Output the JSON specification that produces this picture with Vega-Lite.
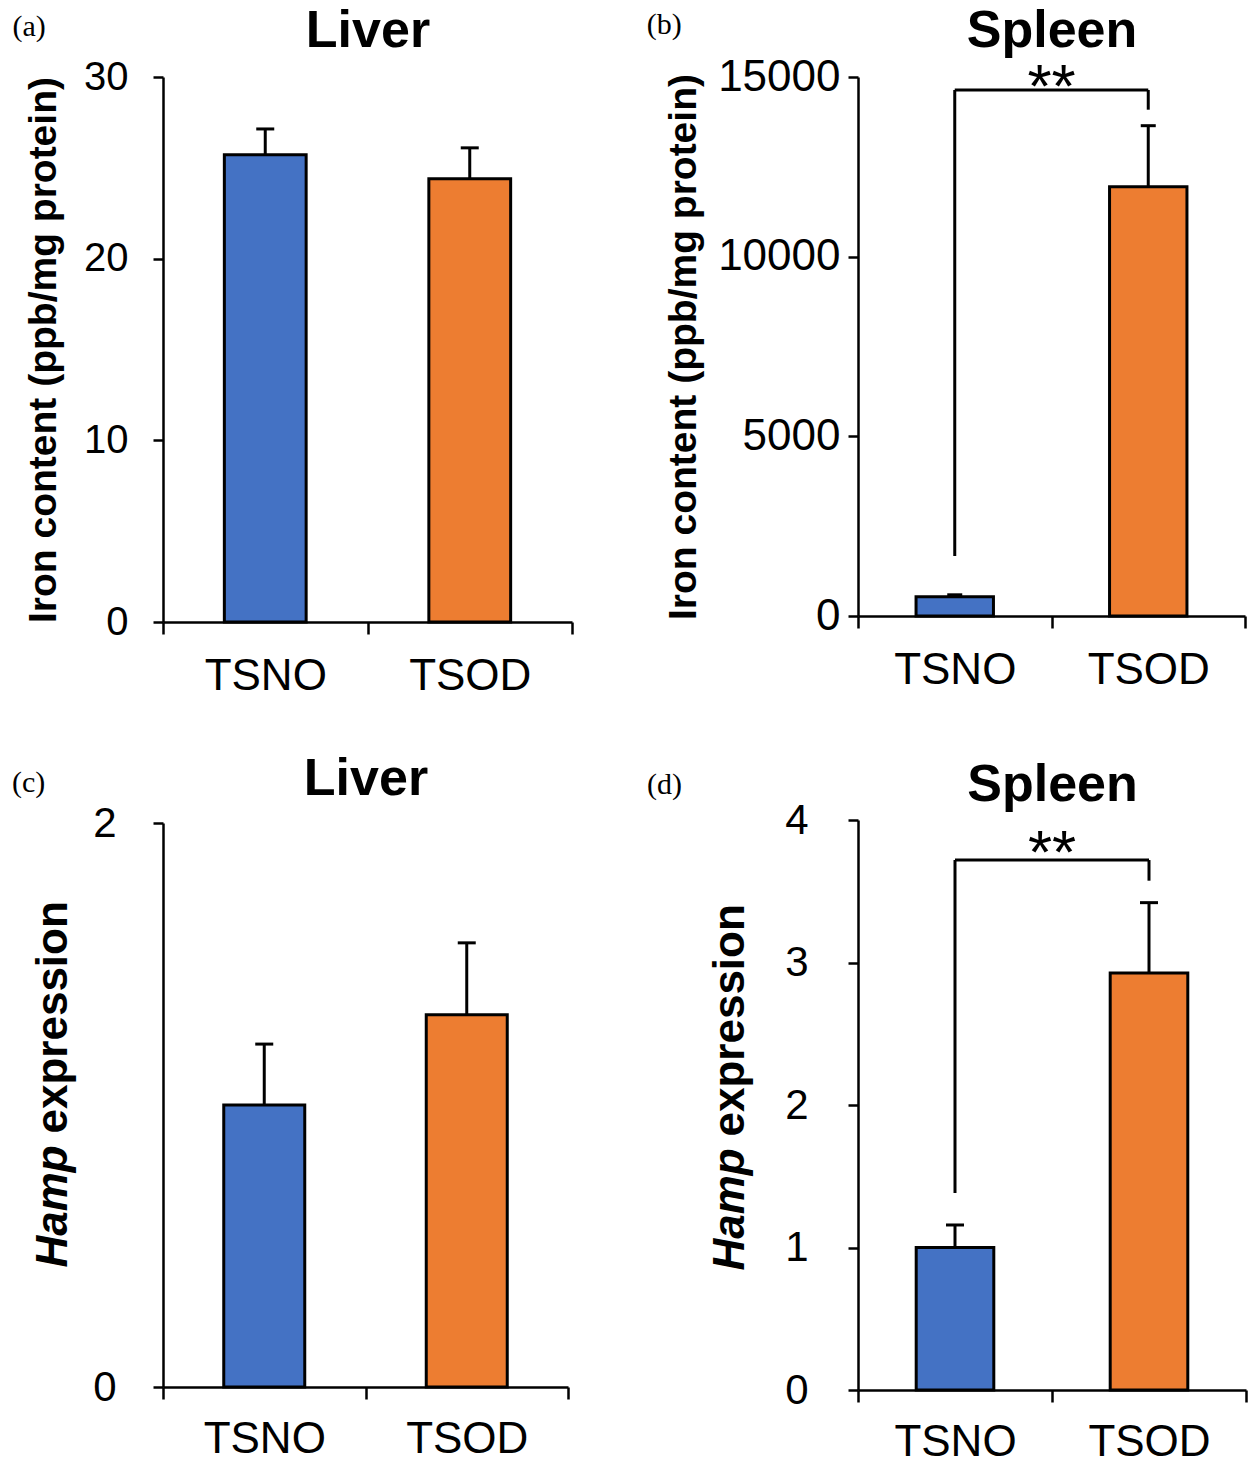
{
  "$schema": "https://vega.github.io/schema/vega-lite/v6.json",
  "background": "white",
  "padding": {"left": 12, "top": 4, "right": 0, "bottom": 0},
  "config": {
    "view": {"stroke": null},
    "font": "Liberation Sans",
    "axis": {"grid": false, "domainColor": "black", "tickColor": "black", "labelColor": "black", "titleColor": "black", "labelFont": "Liberation Sans", "titleFont": "Liberation Sans", "domainWidth": 2.5, "tickWidth": 2.5}
  },
  "spacing": 72,
  "hconcat": [
    {
      "spacing": 54,
      "vconcat": [
        {
          "width": 409, "height": 545,
          "title": {"text": "(a)", "anchor": "start", "frame": "bounds", "font": "Liberation Serif", "fontSize": 30, "fontWeight": "normal", "offset": -38, "dx": -12, "color": "black"},
          "data": {"values": [
            {"group": "TSNO", "value": 25.72, "upper": 27.14},
            {"group": "TSOD", "value": 24.4, "upper": 26.1}
          ]},
          "layer": [
            {
              "mark": {"type": "bar", "width": {"band": 0.4}, "stroke": "black", "strokeWidth": 3},
              "encoding": {
                "x": {"field": "group", "type": "nominal", "scale": {"padding": 0}, "axis": {"title": null, "labelAngle": 0, "labelFontSize": 44, "tickBand": "extent", "tickSize": 12, "labelPadding": 20}},
                "y": {"field": "value", "type": "quantitative", "scale": {"domain": [0, 30], "nice": false}, "axis": {"values": [0, 10, 20, 30], "format": "d", "title": "Iron content (ppb/mg protein)", "titleFontSize": 39, "titleFontWeight": "bold", "labelFontSize": 40, "tickSize": 10, "labelPadding": 25, "titlePadding": 20}},
                "color": {"field": "group", "type": "nominal", "scale": {"range": ["#4472C4", "#ED7D31"]}, "legend": null}
              }
            },
            {
              "mark": {"type": "rule", "strokeWidth": 3, "color": "black"},
              "encoding": {
                "x": {"field": "group", "type": "nominal", "axis": {"orient": "top", "title": "Liver", "labels": false, "ticks": false, "domain": false, "titleFontSize": 52, "titleFontWeight": "bold", "titlePadding": 20}},
                "y": {"field": "value", "type": "quantitative", "axis": null},
                "y2": {"field": "upper"}
              }
            },
            {
              "mark": {"type": "tick", "thickness": 3, "size": 18, "color": "black", "opacity": 1},
              "encoding": {
                "x": {"field": "group", "type": "nominal", "axis": null},
                "y": {"field": "upper", "type": "quantitative", "axis": null}
              }
            }
          ],
          "resolve": {"axis": {"x": "independent", "y": "independent"}}
        },
        {
          "width": 405, "height": 564,
          "title": {"text": "(c)", "anchor": "start", "frame": "bounds", "font": "Liberation Serif", "fontSize": 30, "fontWeight": "normal", "offset": -46, "dx": -19, "color": "black"},
          "data": {"values": [
            {"group": "TSNO", "value": 1.0, "upper": 1.216},
            {"group": "TSOD", "value": 1.32, "upper": 1.575}
          ]},
          "layer": [
            {
              "mark": {"type": "bar", "width": {"band": 0.4}, "stroke": "black", "strokeWidth": 3},
              "encoding": {
                "x": {"field": "group", "type": "nominal", "scale": {"padding": 0}, "axis": {"title": null, "labelAngle": 0, "labelFontSize": 44, "tickBand": "extent", "tickSize": 12, "labelPadding": 18}},
                "y": {"field": "value", "type": "quantitative", "scale": {"domain": [0, 2], "nice": false}, "axis": {"values": [0, 1, 2], "format": "d", "title": "expression", "titleFontSize": 44, "titleFontWeight": "bold", "titleAlign": "left", "titleBaseline": "alphabetic", "titleAngle": -90, "titleX": -97, "titleY": 310, "labelFontSize": 42, "tickSize": 10, "labelPadding": 37}},
                "color": {"field": "group", "type": "nominal", "scale": {"range": ["#4472C4", "#ED7D31"]}, "legend": null}
              }
            },
            {
              "mark": {"type": "rule", "strokeWidth": 3, "color": "black"},
              "encoding": {
                "x": {"field": "group", "type": "nominal", "axis": {"orient": "top", "title": "Liver", "labels": false, "ticks": false, "domain": false, "titleFontSize": 52, "titleFontWeight": "bold", "titlePadding": 18}},
                "y": {"field": "value", "type": "quantitative", "axis": {"orient": "left", "labels": false, "ticks": false, "domain": false, "title": "Hamp", "titleFontSize": 44, "titleFontWeight": "bold", "titleFontStyle": "italic", "titleAlign": "left", "titleBaseline": "alphabetic", "titleAngle": -90, "titleX": -97, "titleY": 444}},
                "y2": {"field": "upper"}
              }
            },
            {
              "mark": {"type": "tick", "thickness": 3, "size": 18, "color": "black", "opacity": 1},
              "encoding": {
                "x": {"field": "group", "type": "nominal", "axis": null},
                "y": {"field": "upper", "type": "quantitative", "axis": null}
              }
            }
          ],
          "resolve": {"axis": {"x": "independent", "y": "independent"}}
        }
      ]
    },
    {
      "spacing": 66,
      "vconcat": [
        {
          "width": 387, "height": 539,
          "title": {"text": "(b)", "anchor": "start", "frame": "bounds", "font": "Liberation Serif", "fontSize": 30, "fontWeight": "normal", "offset": -36, "dx": -18, "color": "black"},
          "data": {"values": [
            {"group": "TSNO", "value": 535, "upper": 590},
            {"group": "TSOD", "value": 11947, "upper": 13645}
          ]},
          "layer": [
            {
              "mark": {"type": "bar", "width": {"band": 0.4}, "stroke": "black", "strokeWidth": 3},
              "encoding": {
                "x": {"field": "group", "type": "nominal", "scale": {"padding": 0}, "axis": {"title": null, "labelAngle": 0, "labelFontSize": 44, "tickBand": "extent", "tickSize": 12, "labelPadding": 20}},
                "y": {"field": "value", "type": "quantitative", "scale": {"domain": [0, 15000], "nice": false}, "axis": {"values": [0, 5000, 10000, 15000], "format": "d", "title": "Iron content (ppb/mg protein)", "titleFontSize": 39, "titleFontWeight": "bold", "labelFontSize": 44, "tickSize": 10, "labelPadding": 8, "titlePadding": 14}},
                "color": {"field": "group", "type": "nominal", "scale": {"range": ["#4472C4", "#ED7D31"]}, "legend": null}
              }
            },
            {
              "mark": {"type": "rule", "strokeWidth": 3, "color": "black"},
              "encoding": {
                "x": {"field": "group", "type": "nominal", "axis": {"orient": "top", "title": "Spleen", "labels": false, "ticks": false, "domain": false, "titleFontSize": 52, "titleFontWeight": "bold", "titlePadding": 20}},
                "y": {"field": "value", "type": "quantitative", "axis": null},
                "y2": {"field": "upper"}
              }
            },
            {
              "mark": {"type": "tick", "thickness": 3, "size": 15, "color": "black", "opacity": 1},
              "encoding": {
                "x": {"field": "group", "type": "nominal", "axis": null},
                "y": {"field": "upper", "type": "quantitative", "axis": null}
              }
            },
            {
              "data": {"values": [
                {"from": "TSNO", "to": "TSOD", "low": 14638, "high": 14638},
                {"from": "TSNO", "to": "TSNO", "low": 1670, "high": 14638},
                {"from": "TSOD", "to": "TSOD", "low": 14090, "high": 14638}
              ]},
              "mark": {"type": "rule", "strokeWidth": 3, "color": "black"},
              "encoding": {
                "x": {"field": "from", "type": "nominal", "axis": null},
                "x2": {"field": "to"},
                "y": {"field": "low", "type": "quantitative", "axis": null},
                "y2": {"field": "high"}
              }
            },
            {
              "data": {"values": [{"from": "TSNO", "label": "**", "y": 14700}]},
              "mark": {"type": "text", "fontSize": 62, "fontWeight": "normal", "baseline": "middle", "align": "center", "color": "black", "font": "Liberation Sans"},
              "encoding": {
                "x": {"field": "from", "type": "nominal", "bandPosition": 1, "axis": null},
                "y": {"field": "y", "type": "quantitative", "axis": null},
                "text": {"field": "label"}
              }
            }
          ],
          "resolve": {"axis": {"x": "independent", "y": "independent"}}
        },
        {
          "width": 388, "height": 570,
          "title": {"text": "(d)", "anchor": "start", "frame": "bounds", "font": "Liberation Serif", "fontSize": 30, "fontWeight": "normal", "offset": -42, "dx": -61, "color": "black"},
          "data": {"values": [
            {"group": "TSNO", "value": 1.0, "upper": 1.158},
            {"group": "TSOD", "value": 2.926, "upper": 3.42}
          ]},
          "layer": [
            {
              "mark": {"type": "bar", "width": {"band": 0.4}, "stroke": "black", "strokeWidth": 3},
              "encoding": {
                "x": {"field": "group", "type": "nominal", "scale": {"padding": 0}, "axis": {"title": null, "labelAngle": 0, "labelFontSize": 44, "tickBand": "extent", "tickSize": 12, "labelPadding": 18}},
                "y": {"field": "value", "type": "quantitative", "scale": {"domain": [0, 4], "nice": false}, "axis": {"values": [0, 1, 2, 3, 4], "format": "d", "title": "expression", "titleFontSize": 44, "titleFontWeight": "bold", "titleAlign": "left", "titleBaseline": "alphabetic", "titleAngle": -90, "titleX": -115, "titleY": 316, "labelFontSize": 42, "tickSize": 10, "labelPadding": 40}},
                "color": {"field": "group", "type": "nominal", "scale": {"range": ["#4472C4", "#ED7D31"]}, "legend": null}
              }
            },
            {
              "mark": {"type": "rule", "strokeWidth": 3, "color": "black"},
              "encoding": {
                "x": {"field": "group", "type": "nominal", "axis": {"orient": "top", "title": "Spleen", "labels": false, "ticks": false, "domain": false, "titleFontSize": 52, "titleFontWeight": "bold", "titlePadding": 9}},
                "y": {"field": "value", "type": "quantitative", "axis": {"orient": "left", "labels": false, "ticks": false, "domain": false, "title": "Hamp", "titleFontSize": 44, "titleFontWeight": "bold", "titleFontStyle": "italic", "titleAlign": "left", "titleBaseline": "alphabetic", "titleAngle": -90, "titleX": -115, "titleY": 450}},
                "y2": {"field": "upper"}
              }
            },
            {
              "mark": {"type": "tick", "thickness": 3, "size": 18, "color": "black", "opacity": 1},
              "encoding": {
                "x": {"field": "group", "type": "nominal", "axis": null},
                "y": {"field": "upper", "type": "quantitative", "axis": null}
              }
            },
            {
              "data": {"values": [
                {"from": "TSNO", "to": "TSOD", "low": 3.719, "high": 3.719},
                {"from": "TSNO", "to": "TSNO", "low": 1.382, "high": 3.719},
                {"from": "TSOD", "to": "TSOD", "low": 3.574, "high": 3.719}
              ]},
              "mark": {"type": "rule", "strokeWidth": 3, "color": "black"},
              "encoding": {
                "x": {"field": "from", "type": "nominal", "axis": null},
                "x2": {"field": "to"},
                "y": {"field": "low", "type": "quantitative", "axis": null},
                "y2": {"field": "high"}
              }
            },
            {
              "data": {"values": [{"from": "TSNO", "label": "**", "y": 3.76}]},
              "mark": {"type": "text", "fontSize": 62, "fontWeight": "normal", "baseline": "middle", "align": "center", "color": "black", "font": "Liberation Sans"},
              "encoding": {
                "x": {"field": "from", "type": "nominal", "bandPosition": 1, "axis": null},
                "y": {"field": "y", "type": "quantitative", "axis": null},
                "text": {"field": "label"}
              }
            }
          ],
          "resolve": {"axis": {"x": "independent", "y": "independent"}}
        }
      ]
    }
  ]
}
